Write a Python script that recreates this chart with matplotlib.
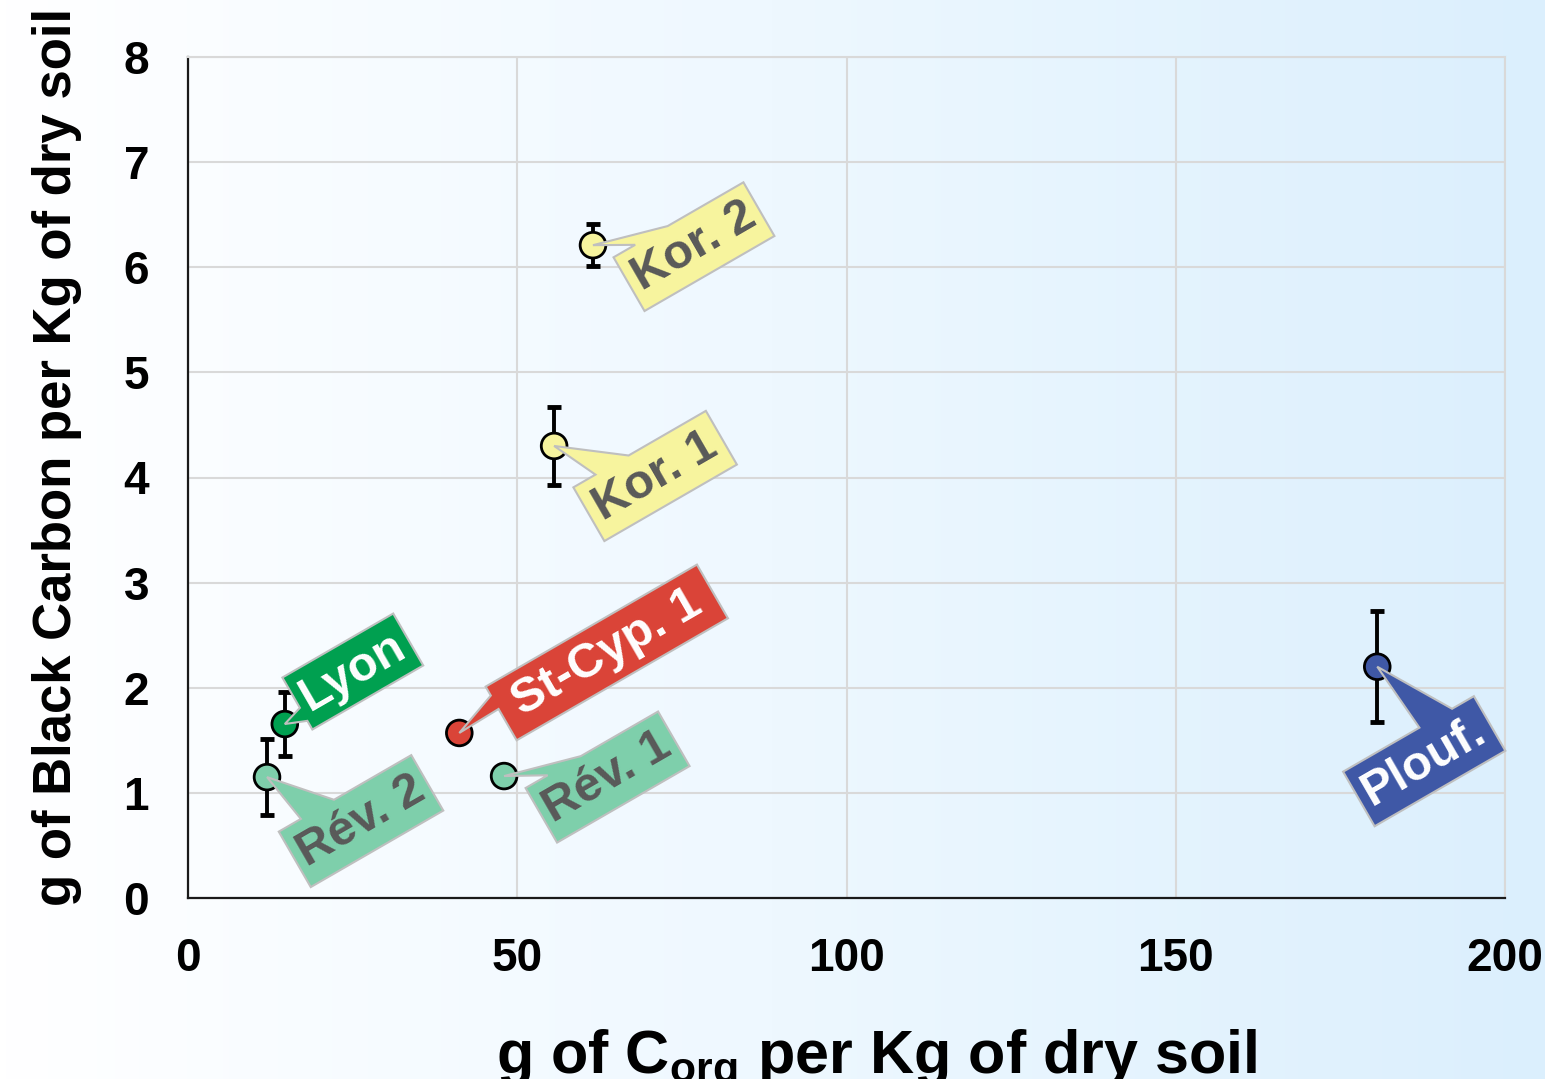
import numpy as np
import matplotlib
matplotlib.use("Agg")
import matplotlib.pyplot as plt
from matplotlib.patches import Polygon
from matplotlib.transforms import IdentityTransform
from matplotlib.colors import LinearSegmentedColormap

# ---------------- data ----------------
sites = ["Kor. 2", "Kor. 1", "Lyon", "Rév. 2", "St-Cyp. 1", "Rév. 1", "Plouf."]
corg = [61.5, 55.6, 14.7, 12.0, 41.2, 48.0, 180.6]
black_carbon = [6.21, 4.30, 1.655, 1.15, 1.57, 1.16, 2.20]
bc_err = [0.20, 0.375, 0.30, 0.36, 0.0, 0.0, 0.53]
xticks = [0, 50, 100, 150, 200]
yticks = [0, 1, 2, 3, 4, 5, 6, 7, 8]

# ---------------- styles / layout ----------------
fill_colors = ["#F7F49E", "#F7F49E", "#00A050", "#7ECFAB", "#DA4438", "#7ECFAB", "#3F58A6"]
text_colors = ["#595959", "#595959", "white", "#595959", "white", "#595959", "white"]
# callout box centre offsets from point (pixels, y up) and box sizes (pixels)
label_dx = [101, 101, 68, 94, 147.5, 103.5, 47]
label_dy = [-1.5, -30, 52.5, -44, 80.5, -1, -94.5]
label_w = [150, 153, 128, 153, 244, 153, 151]
label_h = [62, 62, 60, 64, 62, 63, 63]
label_angle = 30

plt.rcParams["font.family"] = ["Liberation Sans", "DejaVu Sans"]
plt.rcParams["mathtext.fontset"] = "custom"
plt.rcParams["mathtext.rm"] = "Liberation Sans:bold"
plt.rcParams["mathtext.it"] = "Liberation Sans:bold"
plt.rcParams["mathtext.bf"] = "Liberation Sans:bold"

W, H = 1545, 1079
fig = plt.figure(figsize=(W / 100, H / 100), dpi=100)

# background gradient
bg = fig.add_axes([0, 0, 1, 1], zorder=0)
grad = np.linspace(0, 1, 512)[None, :]
cmap = LinearSegmentedColormap.from_list("bg", ["#ffffff", "#eef8ff", "#dbeffd"])
bg.imshow(grad, aspect="auto", cmap=cmap, extent=[0, 1, 0, 1])
bg.axis("off")

ax = fig.add_axes([188 / W, 1 - 898 / H, (1505 - 188) / W, (898 - 57) / H], zorder=1)
ax.patch.set_alpha(0)
ax.set_xlim(0, 200)
ax.set_ylim(0, 8)
ax.set_xticks(xticks)
ax.set_yticks(yticks)
ax.grid(True, color="#d9d9d9", lw=1.5)
ax.set_axisbelow(True)
for s in ["top", "right"]:
    ax.spines[s].set_color("#d9d9d9")
    ax.spines[s].set_linewidth(1.5)
for s in ["left", "bottom"]:
    ax.spines[s].set_color("#1a1a1a")
    ax.spines[s].set_linewidth(1.6)
ax.tick_params(length=0, labelsize=33, pad=28)
for lab in ax.get_xticklabels() + ax.get_yticklabels():
    lab.set_fontweight("bold")

# error bars (only where present)
ex = [x for x, e in zip(corg, bc_err) if e > 0]
ey = [y for y, e in zip(black_carbon, bc_err) if e > 0]
ee = [e for e in bc_err if e > 0]
ax.errorbar(ex, ey, yerr=ee, fmt="none", ecolor="black", elinewidth=2.8,
            capsize=5, capthick=3.5, zorder=3)
ax.scatter(corg, black_carbon, s=18.5 ** 2, c=fill_colors, edgecolors="black",
           linewidths=2, zorder=4)


def callout(tip, center, w, h, ang_deg, fc):
    th = np.deg2rad(ang_deg)
    u = np.array([np.cos(th), np.sin(th)])
    d = np.array([np.sin(th), -np.cos(th)])
    rel = tip - center
    px, py = rel @ u, rel @ d
    l, r, t, b = -w / 2, w / 2, -h / 2, h / 2
    xg1, xg2 = (7, 10) if px > 0 else (2, 5)
    yg1, yg2 = (7, 10) if py > 0 else (2, 5)
    x1, x2 = l + w * xg1 / 12, l + w * xg2 / 12
    y1, y2 = t + h * yg1 / 12, t + h * yg2 / 12
    horiz = abs(px) / w > abs(py) / h
    pts = [(l, t)]
    if (not horiz) and py < 0:
        pts += [(x1, t), (px, py), (x2, t)]
    pts += [(r, t)]
    if horiz and px > 0:
        pts += [(r, y1), (px, py), (r, y2)]
    pts += [(r, b)]
    if (not horiz) and py > 0:
        pts += [(x2, b), (px, py), (x1, b)]
    pts += [(l, b)]
    if horiz and px < 0:
        pts += [(l, y2), (px, py), (l, y1)]
    verts = np.array([center + a * u + c * d for a, c in pts])
    poly = Polygon(verts, closed=True, facecolor=fc, edgecolor="#bfbfbf", lw=1.5,
                   transform=IdentityTransform(), zorder=5, clip_on=False,
                   joinstyle="miter")
    ax.add_patch(poly)


for i, name in enumerate(sites):
    tip = ax.transData.transform((corg[i], black_carbon[i]))
    center = tip + np.array([label_dx[i], label_dy[i]])
    callout(tip, center, label_w[i], label_h[i], label_angle, fill_colors[i])
    ax.text(center[0], center[1], name, transform=IdentityTransform(),
            rotation=label_angle, rotation_mode="anchor", ha="center", va="center",
            fontsize=35, fontweight="bold", color=text_colors[i], zorder=6,
            clip_on=False)

fig.text(877 / W, 1 - 1073 / H, r"g of C$_{\mathrm{org}}$ per Kg of dry soil",
         ha="center", va="baseline", fontsize=44, fontweight="bold", color="black")
fig.text(57 / W, 1 - 457 / H, "g of Black Carbon per Kg of dry soil",
         ha="center", va="center", rotation=90, fontsize=38, fontweight="bold",
         color="black")

fig.savefig("out.png", dpi=100)
